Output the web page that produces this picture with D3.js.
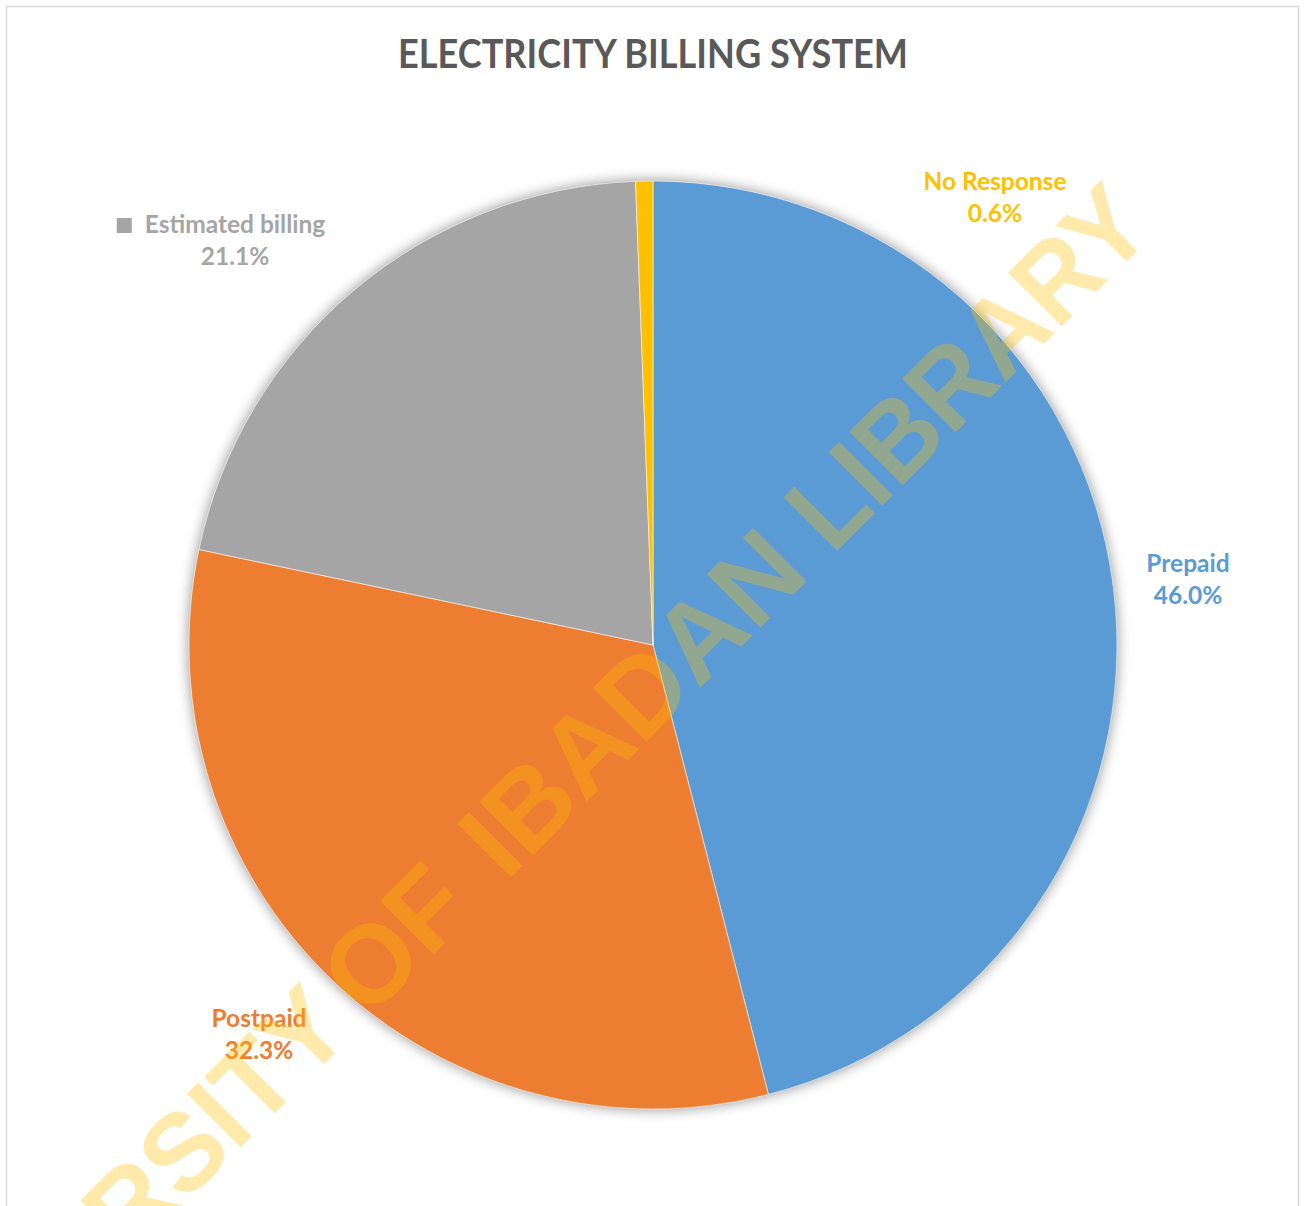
<!DOCTYPE html>
<html>
<head>
<meta charset="utf-8">
<script src="https://cdn.jsdelivr.net/npm/d3@7"></script>
<style>
  html, body { margin: 0; padding: 0; background: #fff; }
  svg { display: block; }
</style>
</head>
<body>
<svg id="chart" width="1307" height="1206"></svg>
<script>
// ---- data ----
const categories = ["Prepaid", "Postpaid", "Estimated billing", "No Response"];
const values = [46.0, 32.3, 21.1, 0.6];
const colors = ["#5B9BD5", "#ED7D31", "#A5A5A5", "#FFC000"];
const title = "ELECTRICITY BILLING SYSTEM";
const watermarkWords = ["UNIVERSITY", "OF", "IBADAN", "LIBRARY"];

// ---- layout (not data) ----
const W = 1307, H = 1206;
const cx = 653, cy = 645, R = 464;
// label anchor points (centre x, first baseline y), Excel-style manual placement
const labelLayout = [
  { x: 1188, y: 572, key: false },
  { x: 259,  y: 1027, key: false },
  { x: 235,  y: 233, key: true },
  { x: 995,  y: 190, key: false }
];
const lineGap = 32;
const labelFont = "Lato, 'Open Sans', sans-serif";
// watermark word placement along its rotated baseline: [start, length]
const wmPlace = [[-1335, 652], [-666, 155], [-470, 433], [-8, 458]];

const svg = d3.select("#chart");
const defs = svg.append("defs");
const f = defs.append("filter").attr("id", "shadow")
  .attr("x", "-10%").attr("y", "-10%").attr("width", "120%").attr("height", "120%");
f.append("feGaussianBlur").attr("in", "SourceAlpha").attr("stdDeviation", 7).attr("result", "b");
f.append("feComponentTransfer").attr("in", "b").attr("result", "c")
  .append("feFuncA").attr("type", "linear").attr("slope", 0.45);
const m = f.append("feMerge");
m.append("feMergeNode").attr("in", "c");

// chart frame
svg.append("rect")
  .attr("x", 6.5).attr("y", 6.5).attr("width", 1292).attr("height", 1240)
  .attr("fill", "#fff").attr("stroke", "#D9D9D9").attr("stroke-width", 1.5);

// title
svg.append("text")
  .attr("x", cx).attr("y", 68)
  .attr("text-anchor", "middle")
  .attr("font-family", labelFont)
  .attr("font-weight", 700)
  .attr("font-size", 41)
  .attr("fill", "#595959")
  .attr("textLength", 510)
  .attr("lengthAdjust", "spacingAndGlyphs")
  .text(title);

const color = d3.scaleOrdinal().domain(categories).range(colors);
const pie = d3.pie().sort(null).value(d => d.value);
const arcs = pie(categories.map((c, i) => ({ name: c, value: values[i] })));
const arc = d3.arc().innerRadius(0).outerRadius(R);

const g = svg.append("g").attr("transform", `translate(${cx},${cy})`);
// shadow under pie
g.append("circle").attr("r", R).attr("fill", "#000").attr("filter", "url(#shadow)");
g.selectAll("path.slice")
  .data(arcs)
  .join("path")
  .attr("class", "slice")
  .attr("d", arc)
  .attr("fill", d => color(d.data.name))
  .attr("stroke", "#fff")
  .attr("stroke-width", 0.6);

// labels
const lg = svg.append("g");
arcs.forEach((a, i) => {
  const L = labelLayout[i];
  const col = color(a.data.name);
  const t = lg.append("text")
    .attr("text-anchor", "middle")
    .attr("font-family", labelFont)
    .attr("font-weight", 700)
    .attr("font-size", 24.5)
    .attr("fill", col);
  t.append("tspan").attr("x", L.x).attr("y", L.y).text(a.data.name);
  t.append("tspan").attr("x", L.x).attr("y", L.y + lineGap)
    .text(d3.format(".1f")(a.data.value) + "%");
  if (L.key) {
    const bb = t.node().getBBox();
    lg.append("rect")
      .attr("x", bb.x - 28).attr("y", L.y - 15)
      .attr("width", 15).attr("height", 15)
      .attr("fill", col);
  }
});

// watermark
const wm = svg.append("g")
  .attr("transform", "translate(838,550) rotate(-45)")
  .attr("font-family", "'Liberation Sans', Arial, sans-serif")
  .attr("font-weight", 700)
  .attr("font-size", 110)
  .attr("fill", "#FFC000")
  .attr("fill-opacity", 0.33);
watermarkWords.forEach((w, i) => {
  wm.append("text")
    .attr("x", wmPlace[i][0]).attr("y", 0)
    .attr("textLength", wmPlace[i][1])
    .attr("lengthAdjust", "spacingAndGlyphs")
    .text(w);
});
</script>
</body>
</html>
